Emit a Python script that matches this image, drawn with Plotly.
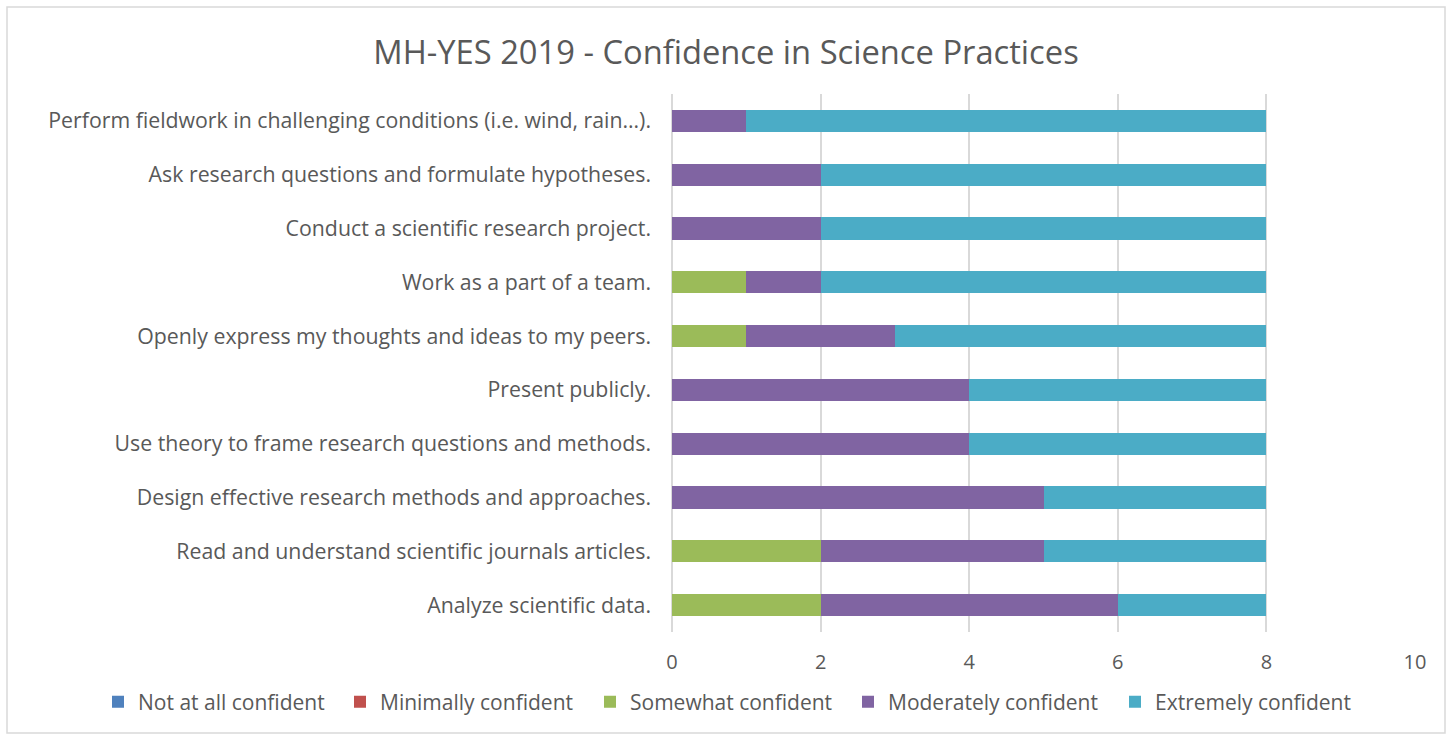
import plotly.graph_objects as go

categories = [
    "Perform fieldwork in challenging conditions (i.e. wind, rain…).",
    "Ask research questions and formulate hypotheses.",
    "Conduct a scientific research project.",
    "Work as a part of a team.",
    "Openly express my thoughts and ideas to my peers.",
    "Present publicly.",
    "Use theory to frame research questions and methods.",
    "Design effective research methods and approaches.",
    "Read and understand scientific journals articles.",
    "Analyze scientific data.",
]
not_at_all = [0, 0, 0, 0, 0, 0, 0, 0, 0, 0]
minimally = [0, 0, 0, 0, 0, 0, 0, 0, 0, 0]
somewhat = [0, 0, 0, 1, 1, 0, 0, 0, 2, 2]
moderately = [1, 2, 2, 1, 2, 4, 4, 5, 3, 4]
extremely = [7, 6, 6, 6, 5, 4, 4, 3, 3, 2]

series = [
    ("Not at all confident", not_at_all, "#4F81BD"),
    ("Minimally confident", minimally, "#C0504D"),
    ("Somewhat confident", somewhat, "#9BBB59"),
    ("Moderately confident", moderately, "#8064A2"),
    ("Extremely confident", extremely, "#4BACC6"),
]

FONT = "Open Sans"
W, H = 1452, 736
L, R, T, B = 672, 37, 94, 104
PW, PH = W - L - R, H - T - B

# left pixel of each legend entry box
legend_px = [98, 340, 590, 848, 1115]
legend_keys = ["legend", "legend2", "legend3", "legend4", "legend5"]

fig = go.Figure()
for (name, vals, color), key in zip(series, legend_keys):
    fig.add_trace(go.Bar(
        y=categories, x=vals, name=name, orientation="h",
        marker=dict(color=color, line=dict(width=0)),
        width=0.41, legend=key, showlegend=True,
    ))

legends = {}
for key, px in zip(legend_keys, legend_px):
    legends[key] = dict(orientation="h", xref="paper", yref="paper",
                        x=(px - L) / PW, xanchor="left",
                        y=-(702 - (H - B)) / PH, yanchor="middle",
                        font=dict(size=21, color="#595959"),
                        itemwidth=30, bgcolor="rgba(0,0,0,0)")

fig.update_layout(
    width=W, height=H,
    barmode="stack",
    showlegend=True,
    paper_bgcolor="white", plot_bgcolor="white",
    margin=dict(l=L, r=R, t=T, b=B, autoexpand=False),
    font=dict(family=FONT, color="#595959", size=20),
    title=dict(text="MH-YES 2019 - Confidence in Science Practices",
               x=0.5, xref="container", xanchor="center",
               y=1 - 53 / H, yref="container", yanchor="middle",
               font=dict(size=32.7, color="#595959", family=FONT)),
    xaxis=dict(range=[0, 10], dtick=2, tick0=0, showgrid=True,
               gridcolor="#D9D9D9", gridwidth=1.5,
               zeroline=True, zerolinecolor="#D9D9D9", zerolinewidth=1.5,
               showline=False, ticks="", ticklabelstandoff=16,
               tickfont=dict(size=20, color="#595959")),
    yaxis=dict(autorange="reversed", showgrid=False, showline=False, ticks="",
               ticklabelstandoff=20,
               tickfont=dict(size=21.3, color="#595959")),
    shapes=[dict(type="rect", xref="paper", yref="paper",
                 x0=(7 - L) / PW, x1=(1445 - L) / PW,
                 y0=(H - 733 - B) / PH, y1=(H - 7 - B) / PH,
                 line=dict(color="#D9D9D9", width=1.5), layer="below")],
    **legends,
)

fig.write_html("out.html", config={"displayModeBar": False},
               post_script="document.body.style.margin='0';")
